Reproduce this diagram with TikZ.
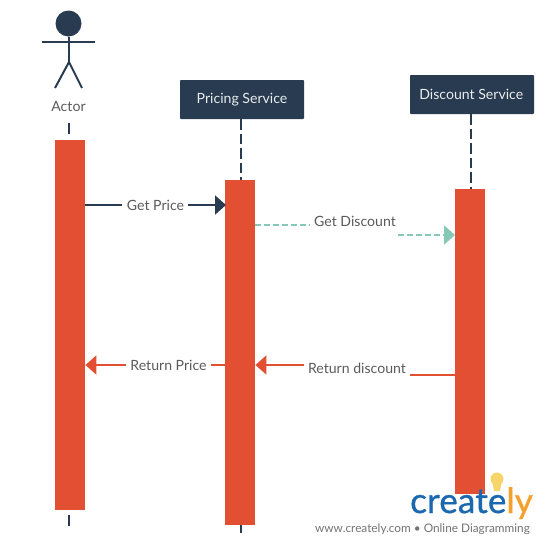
\documentclass[tikz,border=0pt]{standalone}
\usepackage{fontspec}
\setmainfont{Lato}
\newfontfamily\logofont[FakeBold=0.9,LetterSpace=0.5]{Lato}
\usetikzlibrary{arrows.meta}
\definecolor{navy}{HTML}{283B50}
\definecolor{bar}{HTML}{E34F33}
\definecolor{mint}{HTML}{86C8B6}
\definecolor{txt}{HTML}{5A5A5A}
\definecolor{logoblue}{HTML}{1A69B0}
\definecolor{logoorange}{HTML}{F5A02A}
\definecolor{bulb}{HTML}{F7D56A}
\tikzset{
  x=1pt,y=-1pt,
  barbox/.style={fill=bar,draw=none,minimum width=30pt,inner sep=0pt,anchor=north west},
  svcbox/.style={fill=navy,draw=none,text=white!90!navy,minimum height=39pt,inner sep=0pt,font=\fontsize{14.1}{16}\selectfont,rounded corners=0.8pt},
  lbl/.style={text=txt,inner sep=0pt,font=\fontsize{14.1}{16}\selectfont},
  life/.style={navy,line width=2pt,dash pattern=on 10.5pt off 4pt},
  limb/.style={navy,line width=2pt},
  msgn/.style={navy,line width=2pt},
  msgm/.style={mint,line width=2pt,dash pattern=on 6pt off 3pt},
  msgr/.style={bar,line width=2pt},
  tipn/.style={-{Triangle[length=11pt,width=19pt,fill=navy]}},
  tipm/.style={-{Triangle[length=11pt,width=19pt,fill=mint]}},
  tipr/.style={-{Triangle[length=11pt,width=19pt,fill=bar]}},
}
\begin{document}
\begin{tikzpicture}
\useasboundingbox (0,0) rectangle (545,544);
% actor
\node[circle,fill=navy,minimum size=26pt,inner sep=0pt] (head) at (68.5,23.5) {};
\coordinate (armL) at (42,42);
\coordinate (armR) at (95,42);
\coordinate (hip) at (69,62);
\coordinate (footL) at (55,88);
\coordinate (footR) at (82,88);
\draw[limb] (armL) -- (armR);
\draw[limb] (head.south -| hip) -- (hip);
\draw[limb] (footL) -- (hip) -- (footR);
\node[lbl] (actor) at (68.5,106.5) {Actor};
% service boxes
\node[svcbox,minimum width=124pt] (pricing) at (242,99.5) {Pricing Service};
\node[svcbox,minimum width=124pt] (discount) at (472,94.5) {\hspace*{-1.5pt}Discount Service};
% activation bars
\node[barbox,minimum height=370pt] (barA) at (55,140) {};
\node[barbox,minimum height=345pt] (barP) at (225,180) {};
\node[barbox,minimum height=306pt] (barD) at (455,189) {};
% lifelines
\coordinate (aTop) at (69,123);
\coordinate (aTopEnd) at (69,135);
\coordinate (aBot) at (69,515);
\coordinate (aBotEnd) at (69,526);
\coordinate (pBotEnd) at (241,533);
\draw[life] (aTop) -- (aTopEnd);
\draw[life] (aBot) -- (aBotEnd);
\draw[life] (pricing.south -| 241,0) -- (barP.north -| 241,0);
\draw[life] (barP.south -| 241,0) -- (pBotEnd);
\draw[life] (discount.south -| 471,0) -- (barD.north -| 471,0);
% labels
\node[lbl] (getprice) at (155.5,205.5) {Get Price};
\node[lbl] (getdisc) at (355,221.5) {Get Discount};
\node[lbl] (retprice) at (168.5,365.5) {Return Price};
\node[lbl] (retdisc) at (357,368.5) {Return discount};
% messages
\draw[msgn] (barA.east |- 0,205) -- (122,205);
\draw[msgn,tipn] (188,205) -- (226,205);
\draw[msgm] (barP.east |- 0,225) -- (310,225);
\draw[msgm,tipm] (398,235) -- (barD.west |- 0,235);
\draw[msgr] (barP.west |- 0,365) -- (211,365);
\draw[msgr,tipr] (126,365) -- (barA.east |- 0,365);
\draw[msgr] (barD.west |- 0,375) -- (410,375);
\draw[msgr,tipr] (304,365) -- (barP.east |- 0,365);
% logo
\fill[white] (408,494) rectangle (545,544);
\fill[bar] (455,489) rectangle (485,494);
\fill[bulb] (497,479) circle (6.5pt);
\fill[bulb] (492.5,483) -- (501.5,483) -- (500,491) -- (494,491) -- cycle;
\node[inner sep=0pt,anchor=base west,font=\fontsize{35}{36}\logofont] (logo) at (410,513)
  {\textcolor{logoblue}{create}\textcolor{logoorange}{ly}};
\node[lbl,anchor=base east,font=\fontsize{11.8}{13}\selectfont,text=txt!85] (web) at (530,532) {www.creately.com • Online Diagramming};
\end{tikzpicture}
\end{document}
